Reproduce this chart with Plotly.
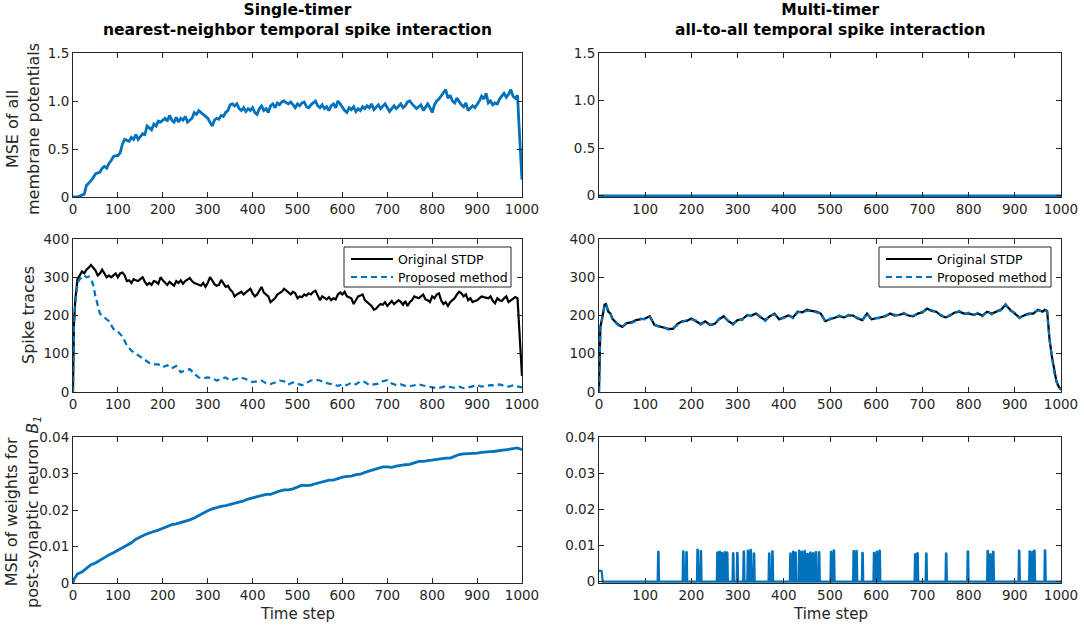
import plotly.graph_objects as go

# ---------------- data ----------------
steps5 = list(range(0, 1001, 5))

mse_membrane_single = [
    0, 0, 0, 0.01, 0.02, 0.03,
    0.12, 0.14, 0.17, 0.20, 0.24, 0.25,
    0.26, 0.30, 0.32, 0.30, 0.35, 0.38, 0.42, 0.43,
    0.43, 0.46, 0.55, 0.60, 0.59, 0.58, 0.62, 0.60, 0.65, 0.60,
    0.63, 0.66, 0.65, 0.74, 0.72, 0.70, 0.76, 0.74, 0.79, 0.78,
    0.80, 0.82, 0.79, 0.85, 0.80, 0.78, 0.83, 0.78, 0.82, 0.80,
    0.84, 0.78, 0.80, 0.82, 0.88, 0.86, 0.90, 0.88, 0.87, 0.85,
    0.82, 0.78, 0.74, 0.80, 0.82, 0.81, 0.85, 0.84, 0.88, 0.90,
    0.96, 0.97, 0.95, 0.97, 0.92, 0.90, 0.93, 0.89, 0.92, 0.90,
    0.93, 0.88, 0.86, 0.92, 0.95, 0.90, 0.92, 0.88, 0.95, 0.97,
    0.93, 0.98, 0.96, 0.99, 1.00, 0.98, 0.97, 0.99, 0.96, 0.93,
    0.97, 0.95, 0.98, 0.99, 0.94, 0.93, 0.96, 0.98, 1.00, 0.95,
    0.93, 0.96, 0.92, 0.94, 0.90, 0.95, 0.97, 0.93, 1.00, 0.97,
    0.93, 0.90, 0.88, 0.93, 0.91, 0.94, 0.89, 0.92, 0.90, 0.94,
    0.92, 0.95, 0.93, 0.97, 0.91, 0.94, 0.96, 0.92, 0.95, 0.97,
    0.93, 0.89, 0.92, 0.95, 0.92, 0.94, 0.97, 0.93, 0.95, 0.99,
    1.00, 0.97, 0.95, 0.92, 0.94, 0.96, 0.90, 0.94, 0.97, 0.93,
    0.88, 0.96, 1.00, 1.02, 1.05, 1.08, 1.12, 1.03, 1.06, 1.00,
    0.98, 1.03, 0.99, 0.96, 0.94, 0.98, 0.90, 0.92, 0.95, 0.93,
    0.96, 1.00, 1.05, 1.02, 1.08, 0.98, 1.00, 0.96, 0.98, 0.97,
    1.02, 1.05, 1.08, 1.04, 1.07, 1.12, 1.05, 1.03, 1.06, 0.60,
    0.18,
]

mse_membrane_multi_x = [0, 1000]
mse_membrane_multi = [0, 0]

trace_single_x = [0, 2] + list(range(5, 1001, 5))
trace_single_original = [
    0, 175,
    240, 295, 305, 315, 310, 320, 325, 332, 325, 318, 305, 310, 320, 310, 300, 305, 300, 305, 310,
    300, 310, 312, 305, 290, 292, 285, 295, 292, 290,
    295, 300, 288, 280, 285, 280, 290, 288, 283, 300,
    292, 285, 280, 288, 282, 278, 290, 285, 292, 283,
    290, 293, 298, 290, 285, 283, 280, 278, 285, 275,
    285, 300, 292, 282, 278, 280, 293, 285, 275, 278,
    268, 262, 250, 255, 258, 262, 255, 260, 265, 270,
    258, 250, 255, 265, 275, 260, 255, 250, 235, 240,
    245, 255, 258, 262, 270, 265, 260, 255, 262, 258,
    245, 250, 248, 255, 252, 258, 255, 262, 265, 250,
    240, 250, 245, 242, 248, 240, 245, 242, 255, 260,
    255, 262, 250, 248, 245, 230, 240, 250, 252, 255,
    240, 235, 230, 225, 215, 218, 225, 230, 228, 235,
    225, 232, 238, 230, 235, 240, 236, 228, 238, 225,
    235, 240, 250, 248, 245, 250, 255, 242, 240, 235,
    250, 245, 255, 258, 240, 230, 235, 225, 235, 240,
    245, 255, 262, 258, 250, 255, 240, 245, 235, 238,
    240, 245, 250, 248, 246, 245, 250, 238, 232, 245,
    240, 238, 245, 250, 235, 240, 243, 248, 245, 140,
    42,
]

trace_single_prop_x = [0, 2, 5, 10, 15, 20, 25, 30, 35, 40, 45, 50, 55, 60] + list(range(70, 1001, 10))
trace_single_proposed = [
    0, 170, 230, 285, 295, 300, 305, 300, 302, 295, 280, 250, 230, 205,
    195, 185, 165, 158, 145, 122, 108, 100, 92, 82,
    76, 72, 72, 65, 70, 62, 68, 52, 56, 60,
    48, 38, 36, 38, 36, 30, 34, 38, 30, 33,
    37, 36, 30, 26, 28, 30, 23, 21, 25, 30,
    28, 20, 25, 22, 18, 24, 30, 32, 30, 25,
    22, 20, 16, 20, 18, 24, 20, 28, 26, 18,
    20, 22, 28, 31, 22, 18, 20, 16, 15, 17,
    20, 17, 14, 12, 10, 12, 15, 13, 11, 14,
    10, 12, 15, 18, 14, 15, 18, 17, 20, 16,
    14, 17, 15, 12,
]

trace_multi_x = [0, 3, 8, 12, 15, 20, 25, 30] + list(range(40, 961, 10)) + [965, 970, 975, 980, 985, 990, 995, 1000]
trace_multi_original = [
    0, 170, 200, 228, 230, 210, 205, 190,
    178, 170, 180, 182, 188, 190, 192, 198, 175, 172,
    168, 165, 165, 178, 185, 186, 192, 185, 178, 185,
    175, 178, 190, 198, 185, 178, 188, 190, 200, 200,
    205, 195, 188, 198, 205, 190, 195, 200, 195, 210,
    208, 215, 212, 210, 205, 185, 190, 195, 198, 195,
    200, 200, 192, 188, 205, 190, 192, 195, 198, 205,
    200, 202, 205, 200, 198, 205, 208, 218, 212, 210,
    200, 195, 200, 208, 210, 205, 205, 202, 205, 200,
    210, 205, 210, 215, 228, 215, 205, 195, 200, 205,
    205, 215, 210,
    215, 212, 140, 95, 55, 28, 14, 6,
]
trace_multi_proposed = [
    0, 168, 198, 226, 231, 212, 203, 188,
    176, 168, 182, 180, 186, 192, 190, 196, 177, 170,
    170, 163, 167, 176, 183, 188, 190, 187, 176, 183,
    177, 176, 192, 196, 187, 176, 190, 188, 202, 198,
    203, 197, 186, 200, 203, 192, 193, 202, 193, 208,
    210, 213, 214, 208, 207, 183, 192, 193, 200, 193,
    202, 198, 194, 186, 207, 188, 194, 193, 200, 203,
    202, 200, 207, 198, 200, 203, 210, 216, 214, 208,
    202, 193, 202, 206, 212, 203, 207, 200, 207, 198,
    212, 203, 212, 213, 230, 213, 207, 193, 202, 203,
    207, 213, 212,
    213, 210, 138, 93, 53, 27, 13, 5,
]

w_single_x = [0, 2] + list(range(10, 1001, 10))
mse_weights_single = [
    0, 0.001,
    0.0025, 0.003, 0.004, 0.005, 0.0055, 0.0063, 0.007, 0.0077, 0.0083, 0.009,
    0.0098, 0.0105, 0.011, 0.012, 0.0127, 0.0132, 0.0137, 0.014, 0.0145, 0.015,
    0.0155, 0.016, 0.0162, 0.0165, 0.017, 0.0173, 0.0178, 0.0185, 0.0193, 0.0198,
    0.0203, 0.0207, 0.021, 0.0212, 0.0215, 0.0218, 0.022, 0.0225, 0.023, 0.0233,
    0.0235, 0.024, 0.0243, 0.0243, 0.0248, 0.0252, 0.0255, 0.0255, 0.0258, 0.0262,
    0.0268, 0.0267, 0.0268, 0.0272, 0.0275, 0.0278, 0.0282, 0.0282, 0.0287, 0.029,
    0.0292, 0.0293, 0.0297, 0.0298, 0.0303, 0.0307, 0.0312, 0.0315, 0.0318, 0.0318,
    0.0317, 0.032, 0.0323, 0.0324, 0.0325, 0.033, 0.0333, 0.0333, 0.0335, 0.0336,
    0.0337, 0.034, 0.0342, 0.0342, 0.0347, 0.0352, 0.0354, 0.0354, 0.0355, 0.0356,
    0.0358, 0.036, 0.036, 0.0361, 0.0362, 0.0365, 0.0366, 0.0368, 0.037, 0.0365,
]

w_multi_initial = [0.003, 0.003, 0.0031, 0.003, 0.0029, 0.003, 0.0028]
w_multi_spike_onsets = [127, 181, 188, 212, 219, 255, 260, 265, 271, 276, 289, 298, 312, 321, 327,
                        334, 367, 374, 413, 419, 424, 432, 438, 444, 450, 456, 462, 468, 475, 501,
                        507, 550, 556, 569, 594, 600, 606, 683, 688, 707, 750, 797, 840, 846, 852,
                        908, 931, 937, 941, 964]
w_multi_spike_peaks = [0.0085, 0.0086, 0.0084, 0.0091, 0.0087, 0.0083, 0.0085, 0.0082, 0.0084, 0.0083,
                       0.0081, 0.0082, 0.0086, 0.0088, 0.009, 0.008, 0.008, 0.0086, 0.008, 0.0085,
                       0.0083, 0.0088, 0.0085, 0.0087, 0.0079, 0.0083, 0.0081, 0.0084, 0.0084, 0.0085,
                       0.0089, 0.0087, 0.0087, 0.0082, 0.0082, 0.0085, 0.0088, 0.0078, 0.0081, 0.008,
                       0.008, 0.0086, 0.0087, 0.0078, 0.0085, 0.0088, 0.0086, 0.0085, 0.0088, 0.0089]

legend_labels = ["Original STDP", "Proposed method"]

# bottom-right series over every time step, built from the values read above
w_multi_x = list(range(0, 1001))
w_multi = [0.0] * len(w_multi_x)
for i, v in enumerate(w_multi_initial):
    w_multi[i] = v
for t, h in zip(w_multi_spike_onsets, w_multi_spike_peaks):
    w_multi[t + 1] = h
    w_multi[t + 2] = h * 0.96

# ---------------- figure ----------------
BLUE = "#0072BD"
AX = "#262626"
FONT = "DejaVu Sans"
DASH = "6px,4px"

W, H = 1084, 630
def px_x(p):
    return p / W
def px_y(p):
    return 1 - p / H

cols = [(73, 522), (599, 1061)]
rows = [(53, 197), (239, 392), (437, 583)]

fig = go.Figure()

fig.add_trace(go.Scatter(x=steps5, y=mse_membrane_single, mode="lines",
                         line=dict(color=BLUE, width=2.8), xaxis="x", yaxis="y", showlegend=False))
fig.add_trace(go.Scatter(x=mse_membrane_multi_x, y=mse_membrane_multi, mode="lines",
                         line=dict(color=BLUE, width=2.6), xaxis="x2", yaxis="y2", showlegend=False))

fig.add_trace(go.Scatter(x=trace_single_x, y=trace_single_original, mode="lines", name=legend_labels[0],
                         line=dict(color="black", width=2.2), xaxis="x3", yaxis="y3", showlegend=False))
fig.add_trace(go.Scatter(x=trace_single_prop_x, y=trace_single_proposed, mode="lines", name=legend_labels[1],
                         line=dict(color=BLUE, width=2.2, dash=DASH), xaxis="x3", yaxis="y3", showlegend=False))

fig.add_trace(go.Scatter(x=trace_multi_x, y=trace_multi_original, mode="lines", name=legend_labels[0],
                         line=dict(color="black", width=2.2), xaxis="x4", yaxis="y4", showlegend=False))
fig.add_trace(go.Scatter(x=trace_multi_x, y=trace_multi_proposed, mode="lines", name=legend_labels[1],
                         line=dict(color=BLUE, width=2.2, dash=DASH), xaxis="x4", yaxis="y4", showlegend=False))

fig.add_trace(go.Scatter(x=w_single_x, y=mse_weights_single, mode="lines",
                         line=dict(color=BLUE, width=2.8), xaxis="x5", yaxis="y5", showlegend=False))
fig.add_trace(go.Scatter(x=w_multi_x, y=w_multi, mode="lines",
                         line=dict(color=BLUE, width=2.2), xaxis="x6", yaxis="y6", showlegend=False))

def ax_common():
    return dict(showline=True, linecolor=AX, linewidth=1, mirror="ticks", ticks="inside",
                ticklen=5, tickcolor=AX, tickwidth=1, showgrid=False, zeroline=False,
                automargin=False,
                tickfont=dict(family=FONT, size=13.5, color=AX))

xt_all = list(range(0, 1001, 100))
xt_no0 = list(range(100, 1001, 100))
yt = [
    ([0, 0.5, 1.0, 1.5], ["0", "0.5", "1.0", "1.5"], [0, 1.5]),
    ([0, 100, 200, 300, 400], ["0", "100", "200", "300", "400"], [0, 400]),
    ([0, 0.01, 0.02, 0.03, 0.04], ["0", "0.01", "0.02", "0.03", "0.04"], [0, 0.04]),
]

layout = {}
n = 1
for r, (top, bot) in enumerate(rows):
    for c, (left, right) in enumerate(cols):
        xk = "xaxis" if n == 1 else f"xaxis{n}"
        yk = "yaxis" if n == 1 else f"yaxis{n}"
        xa = ax_common()
        xv = xt_no0 if (c == 1 and r != 1) else xt_all
        xa.update(domain=[px_x(left), px_x(right)], range=[0, 1000],
                  tickvals=xv, ticktext=[str(v) for v in xv],
                  anchor=("y" if n == 1 else f"y{n}"))
        ya = ax_common()
        yr = list(yt[r][2])
        if c == 1 and r != 1:
            yr[0] = -0.009 * yr[1]
        ya.update(domain=[px_y(bot), px_y(top)], range=yr,
                  tickvals=yt[r][0], ticktext=yt[r][1],
                  anchor=("x" if n == 1 else f"x{n}"))
        layout[xk] = xa
        layout[yk] = ya
        n += 1

fig.update_layout(**layout)

# legends drawn as boxed keys inside the middle panels
shapes = []
ann = []
legend_boxes = [
    dict(box=(344, 511, 247, 287), line_x=(351, 393), text_x=396, rows=(259, 277), size=12.5),
    dict(box=(879, 1051, 247, 287), line_x=(886, 932), text_x=935, rows=(259, 277), size=12.5),
]
for lb in legend_boxes:
    x0, x1, y0, y1 = lb["box"]
    shapes.append(dict(type="rect", xref="paper", yref="paper", layer="above",
                       x0=px_x(x0), x1=px_x(x1), y0=px_y(y1), y1=px_y(y0),
                       line=dict(color=AX, width=1), fillcolor="white"))
    styles = [dict(color="black", width=2.2), dict(color=BLUE, width=2.2, dash=DASH)]
    for label, ry, st in zip(legend_labels, lb["rows"], styles):
        shapes.append(dict(type="line", xref="paper", yref="paper", layer="above",
                           x0=px_x(lb["line_x"][0]), x1=px_x(lb["line_x"][1]),
                           y0=px_y(ry), y1=px_y(ry), line=st))
        ann.append(dict(text=label, x=px_x(lb["text_x"]), y=px_y(ry), xref="paper", yref="paper",
                        showarrow=False, xanchor="left", yanchor="middle",
                        font=dict(family=FONT, size=lb["size"], color="black")))

ann.append(dict(text="<b>Single-timer<br>nearest-neighbor temporal spike interaction</b>",
                x=px_x(297.5), y=px_y(20), xref="paper", yref="paper", showarrow=False,
                xanchor="center", yanchor="middle", font=dict(family=FONT, size=15.5, color="black")))
ann.append(dict(text="<b>Multi-timer<br>all-to-all temporal spike interaction</b>",
                x=px_x(830), y=px_y(20), xref="paper", yref="paper", showarrow=False,
                xanchor="center", yanchor="middle", font=dict(family=FONT, size=15.5, color="black")))
ytitles = [
    ("MSE of all<br>membrane potentials", 23, 129),
    ("Spike traces", 28, 315),
    ("MSE of weights for<br>post-synaptic neuron <i>B</i><sub><i>1</i></sub>", 23, 512),
]
for txt, xx, yy in ytitles:
    ann.append(dict(text=txt, x=px_x(xx), y=px_y(yy), xref="paper", yref="paper", showarrow=False,
                    textangle=-90, xanchor="center", yanchor="middle",
                    font=dict(family=FONT, size=16, color=AX)))
for cx in (297.5, 830):
    ann.append(dict(text="Time step", x=px_x(cx), y=px_y(614), xref="paper", yref="paper",
                    showarrow=False, xanchor="center", yanchor="middle",
                    font=dict(family=FONT, size=15, color=AX)))

fig.update_layout(
    shapes=shapes,
    annotations=ann,
    width=W, height=H,
    showlegend=False,
    margin=dict(l=0, r=0, t=0, b=0, autoexpand=False),
    paper_bgcolor="white", plot_bgcolor="white",
    font=dict(family=FONT, color=AX),
)

fig.write_html("out.html", config={"displayModeBar": False},
               post_script="document.body.style.margin='0px';")
